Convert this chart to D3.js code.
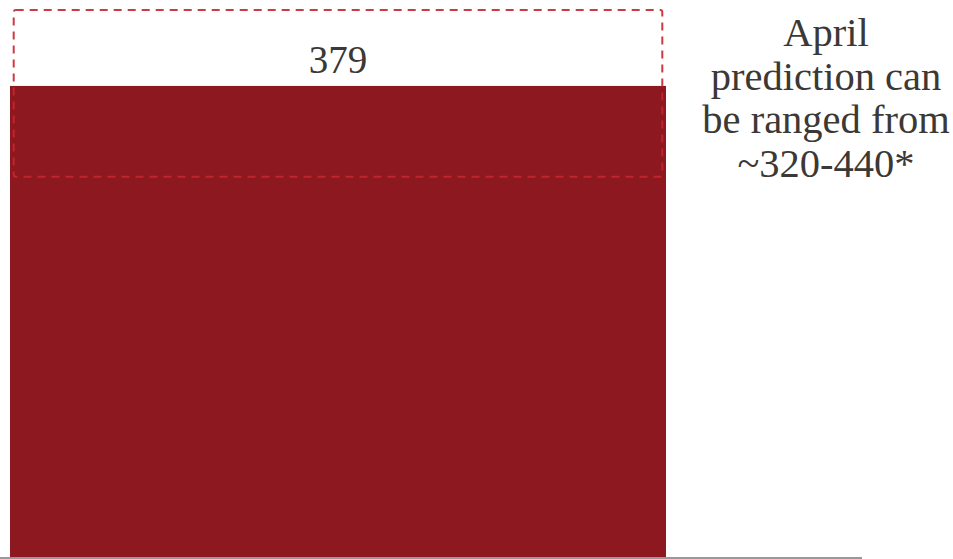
<!DOCTYPE html>
<html>
<head>
<meta charset="utf-8">
<script src="https://cdn.jsdelivr.net/npm/d3@7"></script>
<style>
    html, body { margin: 0; padding: 0; background: #fff; }
    svg { display: block; }
    text { font-family: "Liberation Serif", "Times New Roman", serif; fill: #3b3835; }
</style>
</head>
<body>
<div id="chart"></div>
<script>
// ── Data ──
const categories = ["April"];
const values = [379];
const rangeLow = [306];     // dashed box bottom, as drawn
const rangeHigh = [440];    // dashed box top
const noteLines = ["April", "prediction can", "be ranged from", "~320-440*"];

const WIDTH = 953;
const HEIGHT = 559;

const svg = d3.select("#chart")
    .append("svg")
    .attr("width", WIDTH)
    .attr("height", HEIGHT);

// ── Scales ──
const x = d3.scaleBand()
    .domain(categories)
    .range([10, 666])
    .padding(0);

const y = d3.scaleLinear()
    .domain([0, 448])
    .range([558, 0]);

// Bars
svg.selectAll("rect.bar")
    .data(values)
    .enter()
    .append("rect")
    .attr("class", "bar")
    .attr("x", (d, i) => x(categories[i]))
    .attr("y", d => y(d))
    .attr("width", x.bandwidth())
    .attr("height", d => y(0) - y(d))
    .attr("fill", "#8d181f");

// Prediction range box (dashed)
const inset = 3.7;
svg.selectAll("rect.range")
    .data(categories)
    .enter()
    .append("rect")
    .attr("class", "range")
    .attr("x", d => x(d) + inset)
    .attr("y", (d, i) => y(rangeHigh[i]))
    .attr("width", x.bandwidth() - inset * 2)
    .attr("height", (d, i) => y(rangeLow[i]) - y(rangeHigh[i]))
    .attr("rx", 2)
    .attr("fill", "none")
    .attr("stroke", "#c6262f")
    .attr("stroke-opacity", 0.9)
    .attr("stroke-width", 2)
    .attr("stroke-dasharray", "8 6");

// Value label
svg.selectAll("text.value")
    .data(values)
    .enter()
    .append("text")
    .attr("class", "value")
    .attr("x", (d, i) => x(categories[i]) + x.bandwidth() / 2)
    .attr("y", d => y(d) - 13)
    .attr("text-anchor", "middle")
    .style("font-size", "39px")
    .text(d => d);

// Baseline
svg.append("line")
    .attr("x1", 0)
    .attr("x2", 862)
    .attr("y1", y(0))
    .attr("y2", y(0))
    .attr("stroke", "#999")
    .attr("stroke-width", 2);

// Side note
svg.append("text")
    .attr("text-anchor", "middle")
    .style("font-size", "40.5px")
    .selectAll("tspan")
    .data(noteLines)
    .enter()
    .append("tspan")
    .attr("x", 826)
    .attr("y", (d, i) => 46 + i * 43.7)
    .text(d => d);
</script>
</body>
</html>
